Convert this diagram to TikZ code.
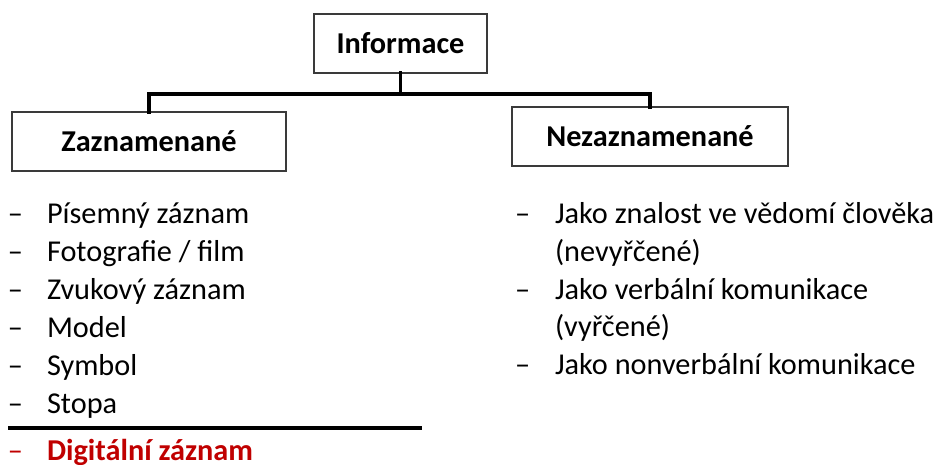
\documentclass[tikz,border=0pt]{standalone}
\usepackage{fontspec}
\setmainfont{Carlito}
\definecolor{boxline}{HTML}{3A3A3A}
\definecolor{accent}{HTML}{C00000}
\newcommand{\listsize}{\fontsize{30.3}{36}\selectfont}
\begin{document}
\begin{tikzpicture}[x=1pt,y=-1pt,
  every node/.style={inner sep=0pt,outer sep=0pt},
  titlebox/.style={draw=boxline,line width=1.3pt,fill=white,
    minimum height=59pt,text height=19.5pt,text depth=0pt,
    font=\listsize\bfseries},
  conn/.style={line width=3.5pt,black,line cap=rect},
  item/.style={anchor=base west,font=\listsize},
  bullet/.style={anchor=base west,font=\listsize}]
\useasboundingbox (0,0) rectangle (936,465);

% title boxes
\node[titlebox,minimum width=173pt] (info) at (400.5,43.5) {Informace};
\node[titlebox,minimum width=274pt] (zaz) at (149,141.5) {Zaznamenané};
\node[titlebox,minimum width=276pt] (nez) at (650,136.5) {Nezaznamenané};

% tree connectors
\coordinate (hub) at (400.5,94);
\draw[conn] (info.south) -- (hub);
\draw[conn] (zaz.north) |- (hub) -| (nez.north);

% recorded forms
\foreach \t [count=\i from 0] in {Písemný záznam,Fotografie / film,Zvukový záznam,Model,Symbol,Stopa}{
  \node[bullet] (ld\i) at (8,223+38*\i) {–};
  \node[item] (li\i) at (47,223+38*\i) {\t};
}
\coordinate (sepL) at (8,428);
\coordinate (sepR) at (422,428);
\draw[line width=3.5pt] (sepL) -- (sepR);
\node[bullet,text=accent] (ldd) at (8,460) {–};
\node[item,text=accent,font=\listsize\bfseries] (dig) at (47,460) {Digitální záznam};

% unrecorded forms
\node[bullet] (rd0) at (515,223) {–};
\node[item] (ri0) at (555,223) {Jako znalost ve vědomí člověka};
\node[item] (ri1) at (555,261) {(nevyřčené)};
\node[bullet] (rd1) at (515,299) {–};
\node[item] (ri2) at (555,299) {Jako verbální komunikace};
\node[item] (ri3) at (555,336) {(vyřčené)};
\node[bullet] (rd2) at (515,374) {–};
\node[item] (ri4) at (555,374) {Jako nonverbální komunikace};
\end{tikzpicture}
\end{document}
